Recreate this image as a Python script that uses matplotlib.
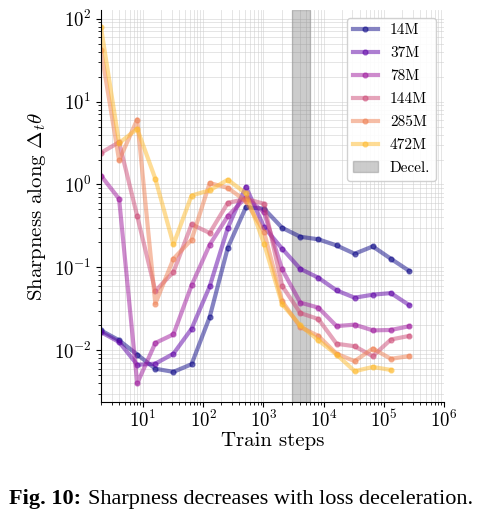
import matplotlib
matplotlib.use("Agg")
import matplotlib.pyplot as plt
import numpy as np

# --- style ---
plt.rcParams.update({
    'font.family': 'serif',
    'font.serif': ['cmr10'],
    'mathtext.fontset': 'cm',
    'axes.formatter.use_mathtext': True,
    'axes.unicode_minus': False,
    'font.size': 11,
})

# --- data ---
steps = [2, 4, 8, 16, 32, 64, 128, 256, 512, 1024, 2048, 4096,
         8192, 16384, 32768, 65536, 131072, 262144]

sharp_14m = [0.0174, 0.0132, 0.0089, 0.0060, 0.0055, 0.0068, 0.0252, 0.173, 0.533,
             0.51, 0.30, 0.234, 0.218, 0.184, 0.146, 0.179, 0.127, 0.091]
sharp_37m = [0.0166, 0.0126, 0.0067, 0.0069, 0.0091, 0.0182, 0.059, 0.30, 0.94,
             0.306, 0.168, 0.096, 0.075, 0.0528, 0.0431, 0.0469, 0.049, 0.0352]
sharp_78m = [1.28, 0.67, 0.0040, 0.01225, 0.0156, 0.0607, 0.1876, 0.415, 0.70,
             0.46, 0.0946, 0.0376, 0.0327, 0.0196, 0.0204, 0.0174, 0.0176, 0.0195]
sharp_144m = [2.41, 3.23, 0.415, 0.0519, 0.088, 0.33, 0.26, 0.60, 0.67,
              0.585, 0.0596, 0.0282, 0.0238, 0.012, 0.0112, 0.0085, 0.0135, 0.0149]
sharp_285m = [42.0, 1.95, 6.07, 0.0365, 0.127, 0.216, 1.04, 0.91, 0.63,
              0.267, 0.039, 0.0191, 0.0149, 0.0091, 0.0074, 0.0105, 0.0079, 0.0085]
sharp_472m = [78.5, 3.15, 4.69, 1.17, 0.189, 0.736, 0.85, 1.14, 0.78,
              0.193, 0.036, 0.020, 0.0132, 0.0089, 0.0056, 0.0063, 0.0058]

model_names = ['14M', '37M', '78M', '144M', '285M', '472M']
series = [sharp_14m, sharp_37m, sharp_78m, sharp_144m, sharp_285m, sharp_472m]

decel_start, decel_end = 3000, 6000

fig = plt.figure(figsize=(4.95, 5.29), dpi=100)
ax = fig.add_axes([0.204, 0.2406, 0.693, 0.7405])

colors = plt.cm.plasma(np.linspace(0, 0.85, len(series)))
for name, vals, c in zip(model_names, series, colors):
    ax.plot(steps[:len(vals)], vals, color=c, lw=3.0, alpha=0.5,
            marker='o', ms=3.5, label=name)

ax.axvspan(decel_start, decel_end, color='gray', alpha=0.4, label='Decel.')

ax.set_xscale('log')
ax.set_yscale('log')
ax.set_xlim(2, 1e6)
ax.set_ylim(0.0024, 127)
ax.grid(True, which='both', color='#cccccc', lw=0.6, alpha=0.6)
ax.set_axisbelow(True)
for s in ['top', 'right']:
    ax.spines[s].set_visible(False)

ax.set_xlabel('Train steps', fontsize=15, labelpad=1)
ax.set_ylabel(r'Sharpness along $\Delta_t\theta$', fontsize=15)
ax.tick_params(labelsize=13.5)
ax.tick_params(axis='x', pad=2)

ax.legend(loc='upper right', fontsize=11, handlelength=1.6,
          labelspacing=0.6, framealpha=0.9)

# caption
fig.text(9.3 / 495, 25 / 529, 'Fig. 10:', fontsize=16, fontweight='bold',
         family='Liberation Serif', va='baseline')
fig.text(88 / 495, 25 / 529, 'Sharpness decreases with loss deceleration.',
         fontsize=16, family='Liberation Serif', va='baseline')

fig.savefig('out.png', dpi=100)
